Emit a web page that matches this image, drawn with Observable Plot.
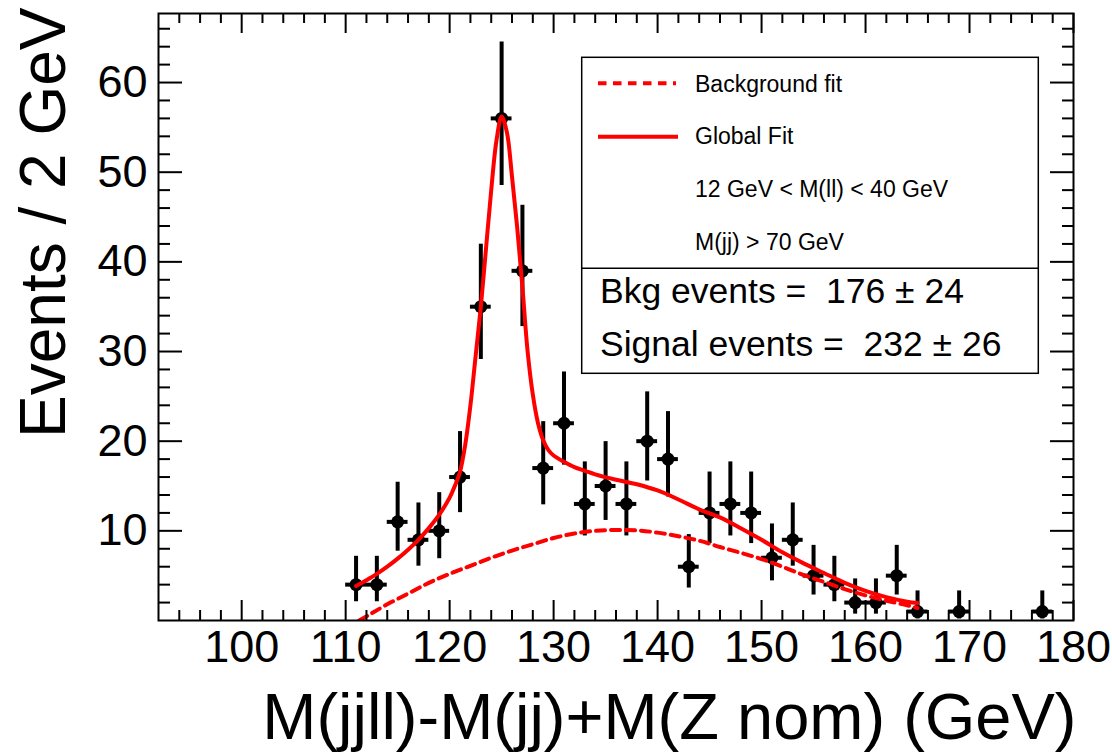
<!DOCTYPE html>
<html>
<head>
<meta charset="utf-8">
<script src="https://cdn.jsdelivr.net/npm/d3@7"></script>
<script src="https://cdn.jsdelivr.net/npm/@observablehq/plot@0.6"></script>
<style>
  html, body { margin: 0; padding: 0; background: #fff; }
  #chart svg { display: block; }
</style>
</head>
<body>
<div id="chart"></div>
<script>
// ---- data ----
const binCenters = [111,113,115,117,119,121,123,125,127,129,131,133,135,137,139,141,143,145,147,149,151,153,155,157,159,161,163,165,169,177];
const counts     = [4,4,11,9,10,16,35,56,39,17,22,13,15,13,20,18,6,12,13,12,7,9,5,4,2,2,5,1,1,1];
const errLow     = [1.91,1.91,3.27,2.94,3.11,3.97,5.89,7.47,6.22,4.10,4.67,3.57,3.84,3.57,4.44,4.22,2.38,3.42,3.57,3.42,2.58,2.94,2.16,1.91,1.29,1.29,2.16,0.83,0.83,0.83];
const errHigh    = [3.16,3.16,4.42,4.11,4.26,5.07,6.97,8.52,7.31,5.18,5.72,4.69,4.95,4.69,5.50,5.30,3.58,4.56,4.69,4.56,3.77,4.11,3.38,3.16,2.64,2.64,3.38,2.30,2.30,2.30];
const binHalfWidth = 1;

const bkgX = [111.3,112.5,114,116,118,120,122,124,126,128,130,132,134,136,138,140,142,144,146,148,150,152,154,156,158,160,162,164,165];
const bkgY = [0,0.8,1.8,3.0,4.2,5.2,6.1,7.0,7.8,8.5,9.2,9.7,10.0,10.1,10.05,9.8,9.4,8.9,8.2,7.55,6.85,6.0,5.1,4.3,3.5,2.8,2.2,1.7,1.4];

const fitX = [111,112,113,114,115,116,117,118,119,120,120.5,121,121.5,122,122.5,123,123.5,124,124.5,125,125.5,126,126.5,127,127.5,128,128.5,129,129.5,130,131,132,133,134,136,138,140,142,144,146,148,150,152,154,156,158,160,162,164,165];
const fitY = [3.85,4.5,5.2,6.0,6.9,7.9,9.0,10.3,11.8,13.7,15.0,16.6,19.6,24.0,29.5,35.0,41.5,48.0,53.5,56.2,54.5,49.5,43.8,37.2,30.0,25.2,22.0,20.1,19.0,18.4,17.7,17.1,16.7,16.3,15.7,15.2,14.5,13.5,12.4,11.5,10.3,9.0,7.6,6.4,5.3,4.2,3.3,2.6,2.1,1.95];

const xMajor = [100,110,120,130,140,150,160,170,180];
const xMinor = d3.range(94, 180, 2).filter(v => v % 10 !== 0);
const yMajor = [10,20,30,40,50,60];
const yMinor = d3.range(2, 67, 2).filter(v => v % 10 !== 0);

const xTitle = "M(jjll)-M(jj)+M(Z nom) (GeV)";
const yTitle = "Events / 2 GeV";
const legendEntries = ["Background fit", "Global Fit", "12 GeV < M(ll) < 40 GeV", "M(jj) > 70 GeV"];
const statLines = ["Bkg events =  176 \u00b1 24", "Signal events =  232 \u00b1 26"];

// ---- tables ----
const points = binCenters.map((x, i) => ({x, y: counts[i], lo: counts[i] - errLow[i], hi: counts[i] + errHigh[i]}));
const bkg = bkgX.map((x, i) => ({x, y: bkgY[i]}));
const fit = fitX.map((x, i) => ({x, y: fitY[i]}));

const W = 1112, H = 754;
const mL = 158, mR = 39, mT = 13, mB = 134;
const pW = W - mL - mR, pH = H - mT - mB;
const font = "'Liberation Sans', Arial, Helvetica, sans-serif";
const red = "#ff0000";

const plot = Plot.plot({
  width: W, height: H,
  marginLeft: mL, marginRight: mR, marginTop: mT, marginBottom: mB,
  x: {domain: [92, 180], axis: null},
  y: {domain: [0, 67.7], axis: null},
  style: {fontFamily: font, background: "#fff", color: "#000", overflow: "visible"},
  marks: [
    // error bars & markers
    Plot.ruleX(points, {x: "x", y1: "lo", y2: "hi", stroke: "#000", strokeWidth: 4}),
    Plot.ruleY(points, {y: "y", x1: d => d.x - binHalfWidth, x2: d => d.x + binHalfWidth, stroke: "#000", strokeWidth: 4}),
    Plot.dot(points, {x: "x", y: "y", r: 6.5, fill: "#000", stroke: "none"}),
    // fits
    Plot.line(bkg, {x: "x", y: "y", stroke: red, strokeWidth: 4, strokeDasharray: "9,6", curve: "catmull-rom", clip: true}),
    Plot.line(fit, {x: "x", y: "y", stroke: red, strokeWidth: 4, curve: "catmull-rom", clip: true}),
    // frame
    Plot.frame({stroke: "#000", strokeWidth: 2}),
    // x ticks bottom/top
    Plot.ruleX(xMajor, {x: d => d, insetTop: pH - 20, stroke: "#000", strokeWidth: 2}),
    Plot.ruleX(xMinor, {x: d => d, insetTop: pH - 10, stroke: "#000", strokeWidth: 2}),
    Plot.ruleX(xMajor, {x: d => d, insetBottom: pH - 20, stroke: "#000", strokeWidth: 2}),
    Plot.ruleX(xMinor, {x: d => d, insetBottom: pH - 10, stroke: "#000", strokeWidth: 2}),
    // y ticks left/right
    Plot.ruleY(yMajor, {y: d => d, insetRight: pW - 24, stroke: "#000", strokeWidth: 2}),
    Plot.ruleY(yMinor, {y: d => d, insetRight: pW - 12, stroke: "#000", strokeWidth: 2}),
    Plot.ruleY(yMajor, {y: d => d, insetLeft: pW - 23, stroke: "#000", strokeWidth: 2}),
    Plot.ruleY(yMinor, {y: d => d, insetLeft: pW - 11, stroke: "#000", strokeWidth: 2}),
    // tick labels
    Plot.text(xMajor, {x: d => d, text: d => String(d), frameAnchor: "bottom", lineAnchor: "top", dy: 10, fontSize: 45, fill: "#000"}),
    Plot.text(yMajor, {y: d => d, text: d => String(d), frameAnchor: "left", textAnchor: "end", dx: -11, fontSize: 45, fill: "#000"}),
    // axis titles
    Plot.text([xTitle], {text: d => d, frameAnchor: "bottom-right", textAnchor: "end", lineAnchor: "bottom", dx: 3, dy: 118, fontSize: 65, fill: "#000"}),
    Plot.text([yTitle], {text: d => d, frameAnchor: "top-left", textAnchor: "end", lineAnchor: "bottom", rotate: -90, dx: -94, dy: -6, fontSize: 64, fill: "#000"})
  ]
});

document.getElementById("chart").appendChild(plot);

// ---- legend box (decoration) ----
const svg = d3.select(plot);
const lg = svg.append("g").attr("font-family", font).attr("fill", "#000").attr("text-anchor", "start");
const bx = 581.7, by = 57.3, bw = 456.6, bh = 316, divY = 268.3;
lg.append("rect").attr("x", bx).attr("y", by).attr("width", bw).attr("height", bh)
  .attr("fill", "#fff").attr("stroke", "#000").attr("stroke-width", 1.5);
lg.append("line").attr("x1", bx).attr("x2", bx + bw).attr("y1", divY).attr("y2", divY)
  .attr("stroke", "#000").attr("stroke-width", 1.5);
lg.append("line").attr("x1", 598).attr("x2", 676).attr("y1", 83.3).attr("y2", 83.3)
  .attr("stroke", red).attr("stroke-width", 4).attr("stroke-dasharray", "8.5,6.5");
lg.append("line").attr("x1", 598).attr("x2", 678).attr("y1", 136.7).attr("y2", 136.7)
  .attr("stroke", red).attr("stroke-width", 4);
const entryY = [91.7, 144.3, 196.7, 250];
legendEntries.forEach((t, i) => {
  lg.append("text").attr("x", 695).attr("y", entryY[i]).attr("font-size", 23)
    .attr("text-anchor", "start").text(t);
});
const statY = [303.3, 355.7];
statLines.forEach((t, i) => {
  lg.append("text").attr("x", 600).attr("y", statY[i]).attr("font-size", 35.5)
    .attr("text-anchor", "start")
    .style("white-space", "pre").attr("xml:space", "preserve").text(t);
});
</script>
</body>
</html>
